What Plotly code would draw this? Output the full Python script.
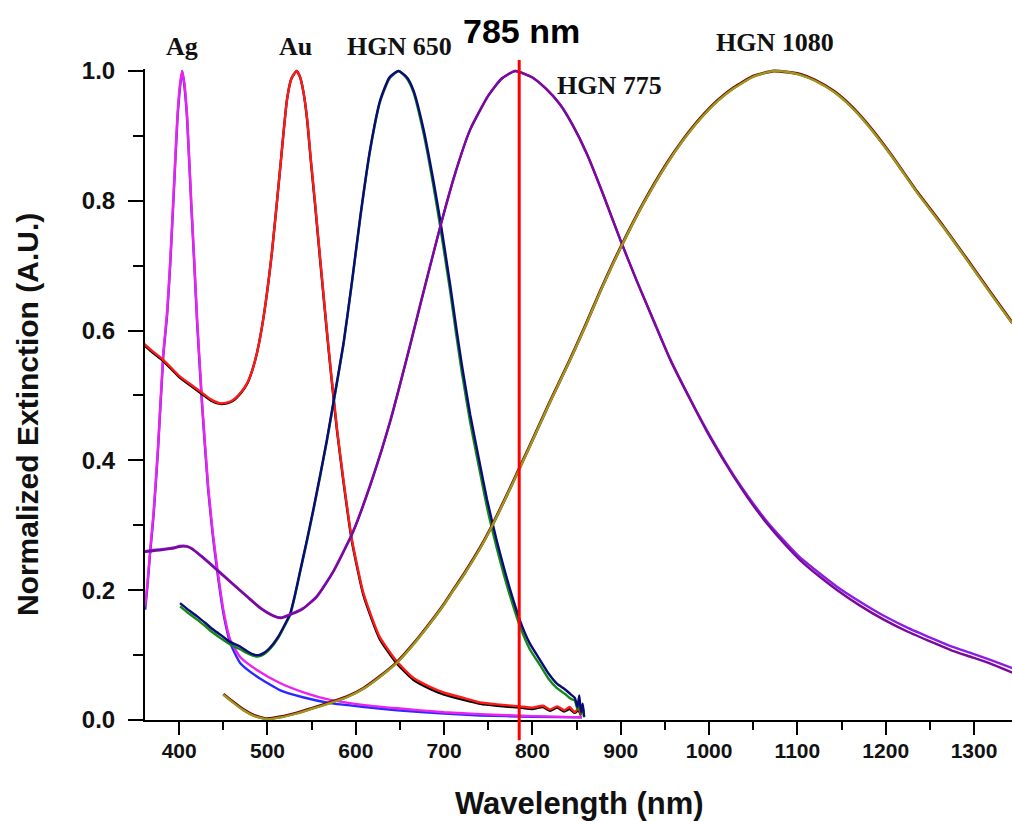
import plotly.graph_objects as go

# ---------------- data ----------------
ag_nm = [361.5, 364, 367, 371, 376, 382, 386.4, 390, 394, 398, 401, 403.4, 406, 409, 413.6, 417,
         420.4, 426, 432.8, 438, 443, 450, 458, 469, 488, 514, 540, 571, 610, 647, 700, 741, 800, 856]
ag_magenta = [0.175, 0.21, 0.26, 0.32, 0.42, 0.565, 0.63, 0.71, 0.82, 0.93, 0.98, 1.0, 0.98, 0.93, 0.80, 0.71,
              0.616, 0.488, 0.36, 0.29, 0.236, 0.17, 0.123, 0.097, 0.077, 0.057, 0.043, 0.031, 0.023, 0.018,
              0.012, 0.009, 0.006, 0.004]
ag_blue = [0.17, 0.205, 0.255, 0.315, 0.415, 0.56, 0.625, 0.705, 0.815, 0.925, 0.975, 1.0, 0.975, 0.925, 0.795,
           0.705, 0.61, 0.483, 0.355, 0.285, 0.23, 0.165, 0.118, 0.088, 0.067, 0.046, 0.035, 0.026, 0.02, 0.015,
           0.01, 0.007, 0.005, 0.004]

au_nm = [359, 370, 382, 401, 415, 426, 436, 446, 454, 461, 470, 477, 483, 488, 495, 505, 514, 522, 527, 533,
         537, 541, 545, 549, 554, 559.7, 567.3, 572, 578.6, 586, 595.6, 608.7, 627, 646.5, 665, 684, 700, 722,
         741, 760, 786, 800, 812, 820, 828, 836, 842, 848, 852, 855]
au_red = [0.581, 0.568, 0.555, 0.529, 0.515, 0.504, 0.494, 0.488, 0.489, 0.493, 0.505, 0.519, 0.54, 0.565,
          0.616, 0.72, 0.845, 0.955, 0.988, 1.0, 0.99, 0.965, 0.925, 0.865, 0.795, 0.71, 0.6, 0.535, 0.45,
          0.37, 0.278, 0.195, 0.128, 0.09, 0.065, 0.051, 0.042, 0.034, 0.027, 0.024, 0.021, 0.019, 0.022,
          0.016, 0.021, 0.015, 0.02, 0.012, 0.018, 0.008]
au_black = [0.579, 0.566, 0.553, 0.527, 0.513, 0.502, 0.492, 0.487, 0.488, 0.492, 0.504, 0.518, 0.54, 0.565,
            0.616, 0.72, 0.845, 0.955, 0.988, 1.0, 0.99, 0.965, 0.923, 0.862, 0.792, 0.707, 0.597, 0.532, 0.447,
            0.367, 0.275, 0.192, 0.125, 0.087, 0.062, 0.048, 0.039, 0.031, 0.025, 0.022, 0.019, 0.017, 0.02,
            0.014, 0.019, 0.013, 0.017, 0.011, 0.015, 0.007]

h650_nm = [401, 410, 420, 430, 438.8, 448, 458, 469, 477, 484, 490, 495.5, 501, 506.8, 512, 518, 525.7, 531.4,
           537, 544.6, 552, 559.7, 567, 574.7, 586, 595.6, 605, 616.3, 627.6, 638, 648.4, 658, 665.3, 676.7,
           688, 695.6, 706.9, 713.7, 720, 729.6, 740, 748.5, 759.8, 767, 774.9, 786.2, 797, 808.8, 818, 827.7,
           837, 843, 848, 851, 853, 855, 857, 858.5]
h650_navy = [0.18, 0.17, 0.16, 0.149, 0.139, 0.13, 0.12, 0.113, 0.106, 0.101, 0.1, 0.103, 0.109, 0.118, 0.128,
             0.143, 0.164, 0.195, 0.23, 0.277, 0.325, 0.378, 0.43, 0.49, 0.58, 0.675, 0.775, 0.88, 0.955, 0.99,
             1.0, 0.99, 0.97, 0.91, 0.83, 0.77, 0.67, 0.605, 0.548, 0.47, 0.398, 0.34, 0.275, 0.238, 0.2, 0.152,
             0.118, 0.092, 0.072, 0.056, 0.047, 0.04, 0.034, 0.02, 0.038, 0.012, 0.025, 0.005]
h650_green = [0.175, 0.165, 0.155, 0.144, 0.134, 0.125, 0.116, 0.109, 0.103, 0.099, 0.098, 0.101, 0.107, 0.116,
              0.126, 0.141, 0.162, 0.193, 0.228, 0.275, 0.323, 0.376, 0.428, 0.488, 0.578, 0.673, 0.773, 0.878,
              0.953, 0.988, 1.0, 0.988, 0.967, 0.904, 0.822, 0.76, 0.66, 0.594, 0.536, 0.458, 0.386, 0.328,
              0.264, 0.227, 0.19, 0.143, 0.109, 0.084, 0.064, 0.049, 0.04, 0.033, 0.03, 0.016, 0.03, 0.01, 0.02,
              0.004]

h775_nm = [359.6, 380, 395, 400, 408.7, 415, 425, 442.7, 460, 476.7, 492, 506.8, 515, 522, 540, 556, 574.4, 597,
           619.7, 639, 661.6, 673, 695.6, 712, 729.6, 750, 765, 780.5, 800, 815, 831.5, 845, 861.7, 880, 899.4,
           918, 936.8, 956, 980, 1001.4, 1027.4, 1045, 1066, 1085, 1103.3, 1125, 1145.2, 1170, 1197.3, 1225,
           1253.9, 1275, 1299.2, 1320, 1343.4]
h775_purple = [0.259, 0.262, 0.265, 0.267, 0.267, 0.263, 0.252, 0.231, 0.21, 0.19, 0.172, 0.16, 0.157, 0.16,
               0.171, 0.19, 0.228, 0.29, 0.375, 0.46, 0.578, 0.64, 0.76, 0.84, 0.91, 0.962, 0.988, 1.0, 0.99,
               0.973, 0.948, 0.918, 0.872, 0.81, 0.74, 0.677, 0.616, 0.555, 0.49, 0.435, 0.376, 0.34, 0.302,
               0.272, 0.246, 0.221, 0.2, 0.177, 0.155, 0.136, 0.119, 0.107, 0.096, 0.086, 0.073]
h775_violet = [0.26, 0.263, 0.266, 0.268, 0.268, 0.264, 0.253, 0.232, 0.211, 0.191, 0.173, 0.161, 0.158, 0.161,
               0.172, 0.191, 0.229, 0.291, 0.376, 0.461, 0.578, 0.64, 0.76, 0.84, 0.91, 0.962, 0.988, 1.0, 0.99,
               0.973, 0.948, 0.918, 0.872, 0.81, 0.74, 0.677, 0.617, 0.556, 0.491, 0.437, 0.378, 0.343, 0.305,
               0.276, 0.25, 0.226, 0.205, 0.183, 0.161, 0.142, 0.125, 0.113, 0.102, 0.092, 0.080]

h1080_nm = [450, 460, 472.8, 485, 499.3, 515, 533.3, 550, 571, 590, 608.7, 627, 646.5, 665, 684.3, 700, 710.6,
            722, 741, 752.2, 775, 797.5, 820, 842.8, 860, 876.8, 899.4, 925, 952.3, 970, 990, 1010, 1027.7,
            1050, 1073, 1090, 1103, 1120, 1141, 1160, 1178.8, 1205, 1235.4, 1265, 1292, 1320, 1343.4]
h1080_olive = [0.039, 0.028, 0.015, 0.006, 0.001, 0.004, 0.01, 0.017, 0.026, 0.035, 0.048, 0.066, 0.088, 0.116,
               0.149, 0.178, 0.2, 0.223, 0.265, 0.293, 0.357, 0.423, 0.49, 0.555, 0.607, 0.66, 0.726, 0.794,
               0.857, 0.892, 0.926, 0.954, 0.973, 0.991, 1.0, 0.998, 0.994, 0.985, 0.968, 0.946, 0.918, 0.872,
               0.813, 0.76, 0.709, 0.655, 0.611]
h1080_darkred = [0.04, 0.029, 0.016, 0.007, 0.002, 0.005, 0.011, 0.018, 0.027, 0.036, 0.049, 0.067, 0.089,
                 0.117, 0.15, 0.179, 0.201, 0.224, 0.266, 0.294, 0.358, 0.424, 0.491, 0.556, 0.608, 0.661, 0.727,
                 0.795, 0.858, 0.893, 0.927, 0.955, 0.974, 0.992, 1.0, 0.998, 0.995, 0.986, 0.969, 0.947,
                 0.919, 0.873, 0.814, 0.761, 0.71, 0.656, 0.612]

laser_nm = 785
x_range = [361.3, 1343]
y_range = [0, 1.003]
y_ticks = [0.0, 0.2, 0.4, 0.6, 0.8, 1.0]
x_ticks = [400, 500, 600, 700, 800, 900, 1000, 1100, 1200, 1300]

peak_labels = ["Ag", "Au", "HGN 650", "HGN 775", "HGN 1080"]
peak_label_px = [0.0421, 0.1736, 0.2941, 0.5363, 0.7272]   # paper x
peak_label_py = [1.0338, 1.0353, 1.0353, 0.9754, 1.040]    # paper y

# ---------------- figure ----------------
fig = go.Figure()

def add(xs, ys, color, w=2.4):
    fig.add_trace(go.Scatter(x=xs, y=ys, mode="lines",
                             line=dict(color=color, width=w, shape="spline", smoothing=0.5),
                             hoverinfo="skip", showlegend=False))

add(ag_nm, ag_blue, "#2a2aff")
add(ag_nm, ag_magenta, "#ee22ee")
add(au_nm, au_black, "#000000")
add(au_nm, au_red, "#ff1a1a")
add(h650_nm, h650_green, "#138a13")
add(h650_nm, h650_navy, "#0a0a7a")
add(h775_nm, h775_violet, "#8a1ee6")
add(h775_nm, h775_purple, "#7a0a9a")
add(h1080_nm, h1080_darkred, "#7a0000", 3.0)
add(h1080_nm, h1080_olive, "#9a9a1e", 2.3)

# 785 nm laser line
fig.add_shape(type="line", xref="x", yref="paper", x0=laser_nm, x1=laser_nm, y0=-0.031, y1=1.014,
              line=dict(color="#ff0000", width=3))

serif = "Liberation Serif, Times New Roman, serif"
sans = "Liberation Sans, Arial, sans-serif"

for t, xv, yv in zip(peak_labels, peak_label_px, peak_label_py):
    fig.add_annotation(x=xv, y=yv, xref="paper", yref="paper", text="<b>%s</b>" % t, showarrow=False,
                       font=dict(family=serif, size=26, color="#111111"), xanchor="center", yanchor="middle")

fig.add_annotation(x=0.4337, y=1.0584, xref="paper", yref="paper", text="<b>785 nm</b>", showarrow=False,
                   font=dict(family=sans, size=34, color="#000000"), xanchor="center", yanchor="middle")

fig.add_annotation(x=0.5017, y=-0.129, xref="paper", yref="paper", text="<b>Wavelength (nm)</b>",
                   showarrow=False, font=dict(family=sans, size=31, color="#111111"),
                   xanchor="center", yanchor="middle")
fig.add_annotation(x=-0.136, y=0.4685, xref="paper", yref="paper",
                   text="<b>Normalized Extinction (A.U.)</b>", textangle=-90,
                   showarrow=False, font=dict(family=sans, size=30, color="#111111"),
                   xanchor="center", yanchor="middle")

fig.update_layout(
    width=1012, height=821,
    margin=dict(l=145, r=0, t=69, b=101),
    paper_bgcolor="white", plot_bgcolor="white",
    showlegend=False,
    xaxis=dict(range=x_range, tickvals=x_ticks, ticks="outside", ticklen=13, tickwidth=2,
               tickcolor="black", showline=True, linecolor="black", linewidth=2, showgrid=False,
               zeroline=False, ticklabelstandoff=-2,
               tickfont=dict(family=sans, size=21, color="#111111", weight="bold"),
               minor=dict(dtick=50, tick0=0, ticks="outside", ticklen=8, tickwidth=2, tickcolor="black",
                          showgrid=False)),
    yaxis=dict(range=y_range, tickvals=y_ticks, tickformat=".1f", ticks="outside", ticklen=15,
               tickwidth=2, tickcolor="black", showline=True, linecolor="black", linewidth=2,
               showgrid=False, zeroline=False, ticklabelstandoff=8,
               tickfont=dict(family=sans, size=24, color="#111111", weight="bold"),
               minor=dict(dtick=0.1, tick0=0, ticks="outside", ticklen=10, tickwidth=2,
                          tickcolor="black", showgrid=False)),
)

# remove the default 8px page margin so the 1012x821 figure fills the window exactly
fig.write_html("out.html", config={"displayModeBar": False},
               post_script="document.body.style.margin='0';document.body.style.overflow='hidden';")
